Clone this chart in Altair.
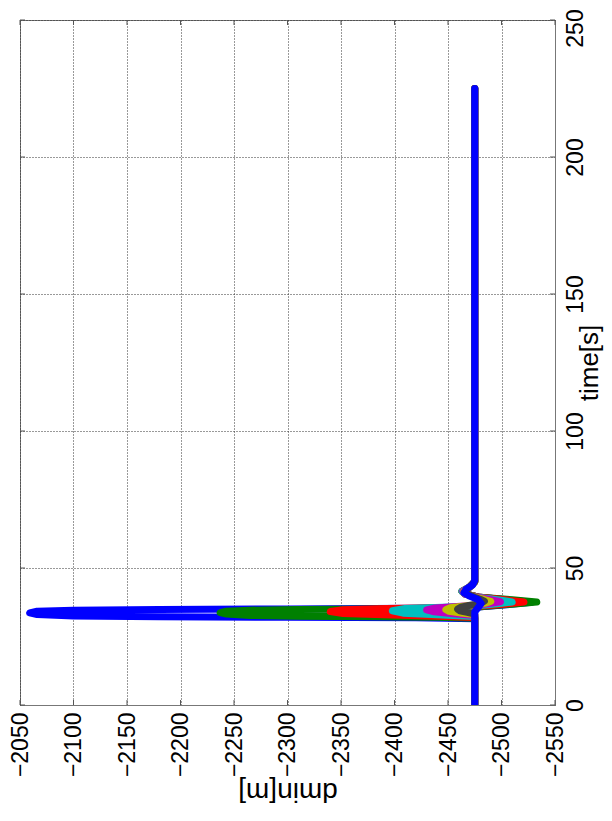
import altair as alt
import pandas as pd

# ---- data (time [s], dmin [m]) ----
SERIES = ["s1", "s2", "s3", "s4", "s5", "s6", "s7", "s8"]
COLORS = ["#0000ff", "#008000", "#ff0000", "#00bfbf", "#bf00bf", "#bfbf00", "#404040", "#0000ff"]

T_S1 = [0, 31.5, 31.8, 32.0, 32.2, 32.5, 33.0, 33.6, 34.2, 34.6, 34.85, 35.05, 35.3, 35.7, 36.6, 37.5, 38.4, 39.3, 40.5, 41.5, 43.0, 45.0, 225]
D_S1 = [-2475, -2475, -2420, -2300, -2180, -2100, -2066, -2059, -2066, -2100, -2180, -2300, -2420, -2475, -2505, -2528, -2505, -2480, -2466, -2464, -2470, -2475, -2475]

T_S2 = [0, 31.7, 32.0, 32.2, 32.4, 32.7, 33.2, 33.7, 34.2, 34.6, 34.85, 35.05, 35.3, 35.7, 36.8, 37.6, 38.4, 39.3, 40.5, 41.5, 43.0, 45.0, 225]
D_S2 = [-2475, -2475, -2440, -2380, -2310, -2265, -2243, -2237, -2243, -2265, -2310, -2380, -2440, -2475, -2510, -2533, -2510, -2480, -2466, -2463, -2470, -2475, -2475]

T_S3 = [0, 31.9, 32.4, 32.9, 33.4, 34.1, 34.8, 35.2, 35.5, 35.9, 36.9, 37.6, 38.4, 39.3, 40.5, 41.5, 43.0, 45.0, 225]
D_S3 = [-2475, -2475, -2440, -2390, -2352, -2340, -2352, -2392, -2440, -2475, -2505, -2521, -2503, -2480, -2466, -2463, -2470, -2475, -2475]

T_S4 = [0, 32.3, 32.8, 33.5, 34.4, 35.2, 35.7, 36.1, 37.0, 37.6, 38.4, 39.3, 40.5, 41.5, 43.0, 45.0, 225]
D_S4 = [-2475, -2475, -2445, -2408, -2398, -2410, -2445, -2475, -2498, -2510, -2496, -2478, -2466, -2463, -2470, -2475, -2475]

T_S5 = [0, 32.7, 33.3, 34.0, 34.7, 35.4, 35.9, 36.4, 37.1, 37.7, 38.4, 39.3, 40.5, 41.5, 43.0, 45.0, 225]
D_S5 = [-2475, -2475, -2455, -2437, -2430, -2438, -2455, -2475, -2490, -2499, -2490, -2477, -2466, -2464, -2470, -2475, -2475]

T_S6 = [0, 33.0, 33.6, 34.2, 34.8, 35.5, 36.0, 36.5, 37.2, 37.8, 38.5, 39.3, 40.5, 41.5, 43.0, 45.0, 225]
D_S6 = [-2475, -2475, -2462, -2451, -2448, -2452, -2462, -2475, -2485, -2490, -2484, -2476, -2467, -2465, -2470, -2475, -2475]

T_S7 = [0, 33.2, 33.8, 34.4, 35.0, 35.7, 36.2, 36.7, 37.3, 37.9, 38.6, 39.3, 40.5, 41.5, 43.0, 45.0, 225]
D_S7 = [-2475, -2475, -2468, -2461, -2459, -2462, -2468, -2475, -2481, -2484, -2480, -2475, -2468, -2466, -2470, -2475, -2475]

T_S8 = [0, 34.0, 35.5, 37.0, 38.5, 39.8, 41.0, 42.3, 43.8, 45.5, 225]
D_S8 = [-2475, -2475, -2478, -2481, -2478, -2470, -2465, -2467, -2473, -2475, -2475]

X_TICKS = [-2050, -2100, -2150, -2200, -2250, -2300, -2350, -2400, -2450, -2500, -2550]
Y_TICKS = [0, 50, 100, 150, 200, 250]

ALL_T = [T_S1, T_S2, T_S3, T_S4, T_S5, T_S6, T_S7, T_S8]
ALL_D = [D_S1, D_S2, D_S3, D_S4, D_S5, D_S6, D_S7, D_S8]

rows = []
for name, ts, ds in zip(SERIES, ALL_T, ALL_D):
    for i, (t, d) in enumerate(zip(ts, ds)):
        rows.append({"s": name, "i": i, "t": t, "d": d})
df = pd.DataFrame(rows)

W, H = 535, 685
FONT = "Liberation Sans"

x_enc = alt.X(
    "d:Q",
    scale=alt.Scale(domain=[-2550, -2050], reverse=True, nice=False, zero=False),
    axis=alt.Axis(
        values=X_TICKS, format="d", title="dmin[m]", labelAngle=270, labelAlign="right",
        labelBaseline="middle", labelPadding=7, ticks=False, grid=True,
        gridDash=[1, 2], gridColor="#333333", gridOpacity=1, gridWidth=1,
        domainColor="#777777", labelFontSize=23, labelFont=FONT, labelColor="#000000",
        titleAngle=180, titleBaseline="middle", titleAlign="center",
        titleX=W / 2, titleY=85, titleFontSize=28, titleFont=FONT,
        titleFontWeight="normal", titleColor="#000000", labelFlush=False,
        labelOverlap=False,
    ),
)
y_enc = alt.Y(
    "t:Q",
    scale=alt.Scale(domain=[0, 250], nice=False, zero=False),
    axis=alt.Axis(
        orient="right", values=Y_TICKS, format="d", title="time[s]", labelAngle=270,
        labelAlign="center", labelBaseline="top", labelPadding=9, ticks=False,
        labelOffset={"expr": "datum.value == 250 ? 8 : 0"},
        grid=True, gridDash=[1, 2], gridColor="#333333", gridOpacity=1, gridWidth=1,
        domainColor="#777777", labelFontSize=23, labelFont=FONT, labelColor="#000000",
        titleAngle=270, titleBaseline="top", titleAlign="center",
        titleX=21, titleY=H / 2, titleFontSize=26, titleFont=FONT,
        titleFontWeight="normal", titleColor="#000000", labelFlush=False,
        labelOverlap=False,
    ),
)

base = alt.Chart(df)
layers = []
for name, col in zip(SERIES, COLORS):
    layers.append(
        base.transform_filter(alt.datum.s == name)
        .mark_line(color=col, strokeWidth=7, strokeJoin="round", strokeCap="round", clip=True)
        .encode(x=x_enc, y=y_enc, order=alt.Order("i:Q"))
    )

# small inward ticks (MATLAB style)
xt = pd.DataFrame({"v": X_TICKS})
yt = pd.DataFrame({"v": Y_TICKS})
tick_style = dict(color="#555555", strokeWidth=1)
tb = alt.Chart(xt).mark_rule(**tick_style).encode(x=alt.X("v:Q"), y=alt.value(H), y2=alt.value(H - 5))
tt = alt.Chart(xt).mark_rule(**tick_style).encode(x=alt.X("v:Q"), y=alt.value(0), y2=alt.value(5))
tr = alt.Chart(yt).mark_rule(**tick_style).encode(y=alt.Y("v:Q"), x=alt.value(W), x2=alt.value(W - 5))
tl = alt.Chart(yt).mark_rule(**tick_style).encode(y=alt.Y("v:Q"), x=alt.value(0), x2=alt.value(5))

chart = (
    alt.layer(*layers, tb, tt, tr, tl)
    .properties(
        width=W, height=H,
        autosize=alt.AutoSizeParams(type="none"),
        padding={"left": 12, "top": 12, "right": 49, "bottom": 108},
        background="#ffffff",
    )
    .configure_view(stroke="#777777", strokeWidth=1)
)

chart.save("out.html", embed_options={"renderer": "svg", "actions": False})
